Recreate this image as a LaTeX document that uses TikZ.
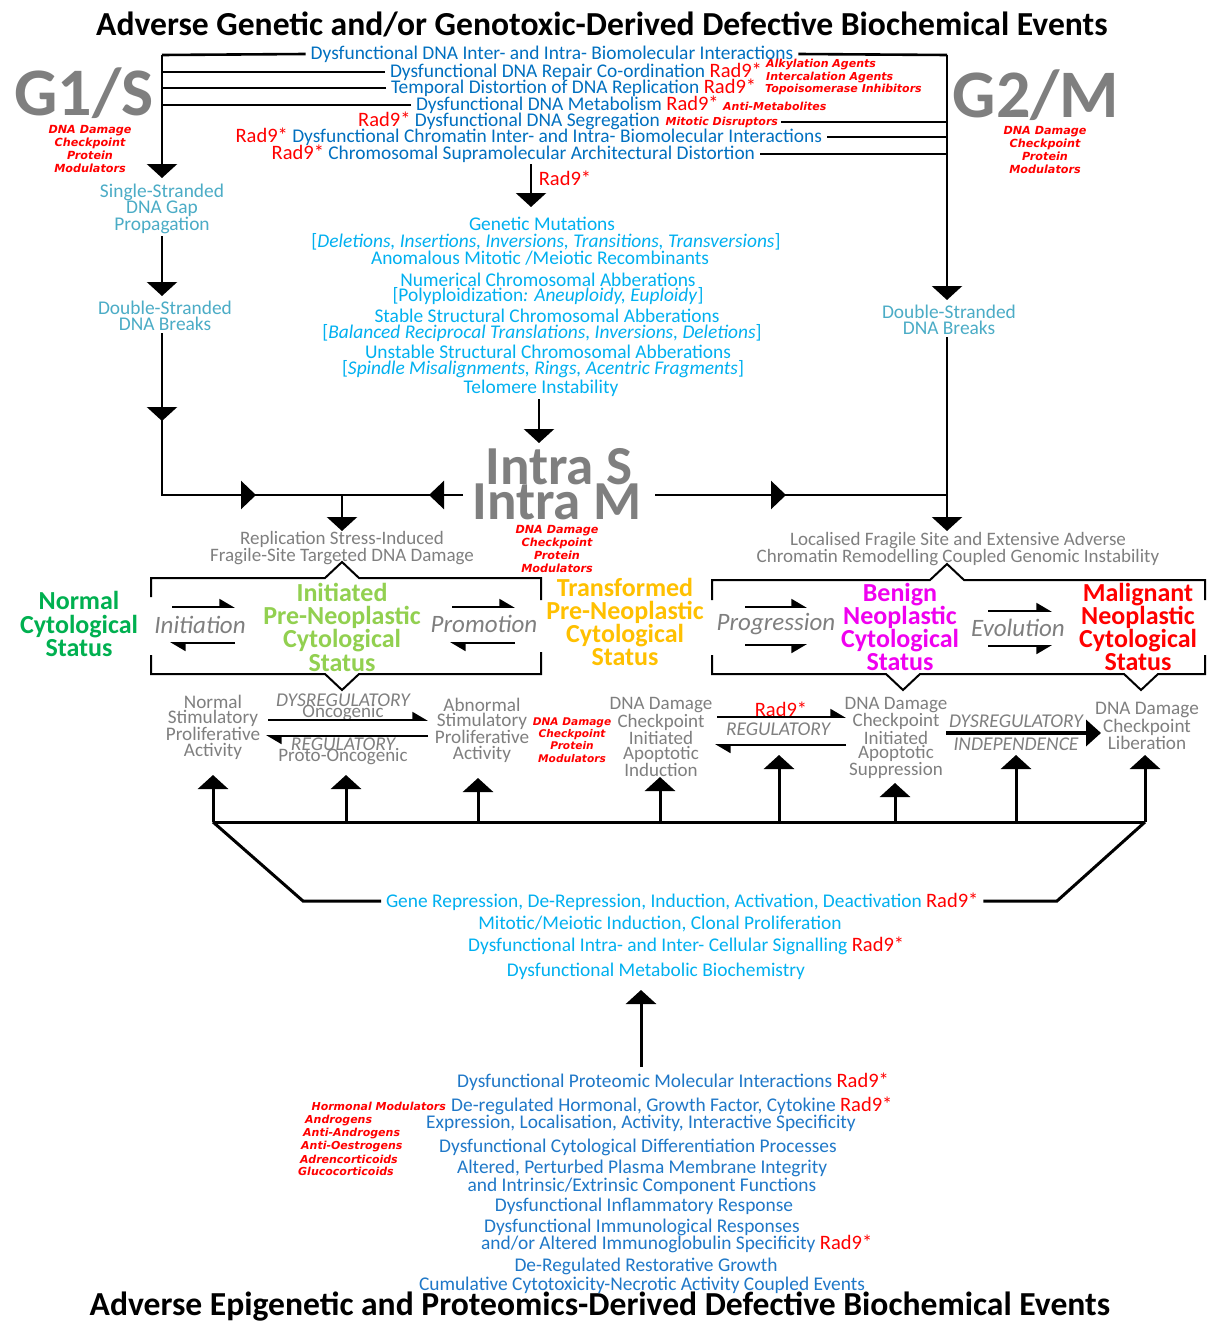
\documentclass[tikz,border=0pt]{standalone}
\usepackage{fontspec}
\setmainfont{Carlito}
\newfontfamily\notefont{DejaVu Sans}
\usetikzlibrary{arrows.meta}

\definecolor{dnablue}{HTML}{0070C0}
\definecolor{mutblue}{HTML}{00B0F0}
\definecolor{gapteal}{HTML}{4BACC6}
\definecolor{labgray}{HTML}{7F7F7F}
\definecolor{hotred}{HTML}{FF0000}
\definecolor{normgreen}{HTML}{00B050}
\definecolor{initgreen}{HTML}{92D050}
\definecolor{transamber}{HTML}{FFC000}
\definecolor{benignpink}{HTML}{F000F0}
\definecolor{protblue}{HTML}{1F78C8}

\newcommand\radnine{{\color{hotred}\fontsize{20.5}{16}\selectfont Rad9*}}

\begin{document}
\begin{tikzpicture}[x=1pt,y=-1pt,
  heading/.style={inner sep=0pt, font=\fontsize{33.6}{34}\selectfont\bfseries},
  phase/.style={inner sep=0pt, anchor=base, text depth=0pt, text=labgray, font=\fontsize{68}{60}\selectfont\bfseries},
  intra/.style={inner sep=0pt, anchor=base, text height=0.66em, text depth=0pt, text=labgray, font=\fontsize{55}{50}\selectfont\bfseries},
  txt/.style={inner sep=0pt, align=center, font=\fontsize{19.4}{16}\selectfont},
  linetxt/.style={txt, outer sep=5pt},
  graytxt/.style={inner sep=0pt, align=center, text=labgray, font=\fontsize{19.2}{15.3}\selectfont},
  grayit/.style={inner sep=0pt, text=labgray, font=\fontsize{19.5}{15}\selectfont\itshape},
  note/.style={inner sep=0pt, align=center, text=hotred, font=\notefont\fontsize{11}{13}\selectfont\bfseries\itshape},
  notel/.style={note, align=left},
  cpnote/.style={note, font=\notefont\fontsize{11.2}{13.1}\selectfont\bfseries\itshape},
  status/.style={inner sep=0pt, align=center, font=\fontsize{26}{23.3}\selectfont\bfseries},
  stage/.style={inner sep=0pt, text=labgray, font=\fontsize{25}{25}\selectfont\itshape},
  wire/.style={line width=2.6pt, line join=miter},
  bus/.style={line width=3pt, line join=miter},
  bigtip/.style={-{Triangle[length=14pt,width=30pt]}},
  sidetip/.style={-{Triangle[length=15pt,width=28pt]}},
  frame/.style={line width=2pt, line join=miter},
  harpup/.style={line width=1.8pt, -{Triangle[length=14pt,width=16pt,left]}},
  harpdn/.style={line width=1.8pt, -{Triangle[length=14pt,width=16pt,right]}},
]
\fill[white] (0,0) rectangle (1211,1322);
\useasboundingbox (0,0) rectangle (1211,1322);

% ---------- headings ----------
\node[heading] (tophead) at (602,24) {Adverse Genetic and/or Genotoxic-Derived Defective Biochemical Events};
\node[heading] (bothead) at (600,1307) {Adverse Epigenetic and Proteomics-Derived Defective Biochemical Events};

% ---------- cell-cycle checkpoints ----------
\node[phase] (g1s) at (84,115) {G1/S};
\node[cpnote] (g1note) at (90,149) {DNA Damage\\Checkpoint\\Protein\\Modulators};
\node[phase] (g2m) at (1036,117) {G2/M};
\node[cpnote] (g2note) at (1045,150) {DNA Damage\\Checkpoint\\Protein\\Modulators};

% ---------- genotoxic events ----------
\node[linetxt, text=dnablue] (d1) at (552,54) {Dysfunctional DNA Inter- and Intra- Biomolecular Interactions};
\node[linetxt, text=dnablue, anchor=west] (d2) at (385,72) {Dysfunctional DNA Repair Co-ordination \radnine};
\node[notel, anchor=west] (n2) at (766,71) {Alkylation Agents\\Intercalation Agents};
\node[linetxt, text=dnablue, anchor=west] (d3) at (386,88) {Temporal Distortion of DNA Replication \radnine};
\node[note, anchor=west] (n3) at (765,89) {Topoisomerase Inhibitors};
\node[linetxt, text=dnablue, anchor=west] (d4) at (411,105) {Dysfunctional DNA Metabolism \radnine};
\node[note, anchor=west] (n4) at (723,106) {Anti-Metabolites};
\node[txt, text=dnablue, anchor=east] (d5) at (660,121) {\radnine\ Dysfunctional DNA Segregation};
\node[note, anchor=east, outer sep=3pt] (n5) at (781,122) {Mitotic Disruptors};
\node[linetxt, text=dnablue, anchor=east] (d6) at (827,137) {\radnine\ Dysfunctional Chromatin Inter- and Intra- Biomolecular Interactions};
\node[linetxt, text=dnablue, anchor=east] (d7) at (760,154) {\radnine\ Chromosomal Supramolecular Architectural Distortion};

% ---------- DNA strand damage ----------
\node[txt, text=gapteal] (ss) at (162,209) {Single-Stranded\\DNA Gap\\Propagation};
\node[txt, text=gapteal] (dsl) at (165,316) {Double-Stranded\\DNA Breaks};
\node[txt, text=gapteal] (dsr) at (949,320) {Double-Stranded\\DNA Breaks};

% ---------- genetic mutations ----------
\begin{scope}[every node/.style={txt, text=mutblue}]
\node (gm1) at (542,224) {Genetic Mutations};
\node (gm2) at (546,242) {[\textit{Deletions, Insertions, Inversions, Transitions, Transversions}]};
\node (gm3) at (540,258) {Anomalous Mitotic /Meiotic Recombinants};
\node (gm4) at (548,280) {Numerical Chromosomal Abberations};
\node (gm5) at (548,296) {[Polyploidization\textit{: Aneuploidy, Euploidy}]};
\node (gm6) at (547,316) {Stable Structural Chromosomal Abberations};
\node (gm7) at (542,333) {[\textit{Balanced Reciprocal Translations, Inversions, Deletions}]};
\node (gm8) at (548,352) {Unstable Structural Chromosomal Abberations};
\node (gm9) at (543,369) {[\textit{Spindle Misalignments, Rings, Acentric Fragments}]};
\node (gm10) at (541,388) {Telomere Instability};
\end{scope}
\node[txt] (radmid) at (565,178) {\radnine};

% ---------- intra S / intra M ----------
\node[intra] (intras) at (559,484) {Intra S};
\node[intra] (intram) at (557,519) {Intra M};
\node[cpnote] (intranote) at (557,549) {DNA Damage\\Checkpoint\\Protein\\Modulators};

\node[graytxt, font=\fontsize{19}{15}\selectfont] (rs) at (342,548) {Replication Stress-Induced\\Fragile-Site Targeted DNA Damage};
\node[graytxt, font=\fontsize{19}{15}\selectfont] (lf) at (958,549) {Localised Fragile Site and Extensive Adverse\\Chromatin Remodelling Coupled Genomic Instability};

% ---------- top connectors ----------
\coordinate (lbus) at (162,55);
\coordinate (rbus) at (947,55);
\draw[wire] (d1.west) -- (lbus);
\draw[wire, bigtip] (lbus) -- (162,178);
\draw[wire] (d2.west) -- (d2.west -| lbus);
\draw[wire] (d3.west) -- (d3.west -| lbus);
\draw[wire] (d4.west) -- (d4.west -| lbus);
\draw[wire] (d1.east) -- (rbus);
\draw[wire, bigtip] (rbus) -- (947,300);
\draw[wire] (n5.east) -- (n5.east -| rbus);
\draw[wire] (d6.east) -- (d6.east -| rbus);
\draw[wire] (d7.east) -- (d7.east -| rbus);

\coordinate (m1) at (531,164);
\coordinate (m2) at (531,207);
\draw[wire, bigtip] (m1) -- (m2);

% left chain
\coordinate (l1) at (162,236);
\coordinate (l2) at (162,296);
\coordinate (l3) at (162,333);
\coordinate (l4) at (162,421);
\coordinate (l5) at (162,495);
\coordinate (l6) at (256,495);
\coordinate (j1) at (342,495);
\coordinate (j2) at (342,531);
\coordinate (il) at (463,495);
\coordinate (il2) at (429,495);
\draw[wire, bigtip] (l1) -- (l2);
\draw[wire, bigtip] (l3) -- (l4);
\draw[wire] (l3) -- (l5) -- (il);
\draw[wire, sidetip] (l5) -- (l6);
\draw[wire, sidetip] (il) -- (il2);
\draw[wire, bigtip] (j1) -- (j2);

% telomere to intra
\coordinate (t1) at (539,399);
\coordinate (t2) at (539,443);
\draw[wire, bigtip] (t1) -- (t2);

% right chain
\coordinate (ir) at (655,495);
\coordinate (ir2) at (786,495);
\coordinate (r1) at (947,337);
\coordinate (rj) at (947,495);
\coordinate (r2) at (947,531);
\draw[wire] (ir) -- (rj);
\draw[wire, sidetip] (ir) -- (ir2);
\draw[wire, bigtip] (r1) -- (r2);

% ---------- cytological status ----------
\draw[frame] (151,597) -- (151,578) -- (325,578) -- (342,562) -- (359,578) -- (541,578) -- (541,600);
\draw[frame] (151,655) -- (151,674) -- (325,674) -- (342,690) -- (359,674) -- (541,674) -- (541,652);
\draw[frame] (712,600) -- (712,580) -- (930,580) -- (947,564) -- (964,580) -- (1205,580) -- (1205,600);
\draw[frame] (712,655) -- (712,674) -- (886,674) -- (903,690) -- (920,674) -- (1124,674) -- (1141,690) -- (1158,674) -- (1205,674) -- (1205,655);

\node[status, text=normgreen] (normal) at (79,624) {Normal\\Cytological\\Status};
\node[status, text=initgreen] (initiated) at (342,627) {Initiated\\Pre-Neoplastic\\Cytological\\Status};
\node[status, text=transamber] (transformed) at (625,622) {Transformed\\Pre-Neoplastic\\Cytological\\Status};
\node[status, text=benignpink] (benign) at (900,627) {Benign\\Neoplastic\\Cytological\\Status};
\node[status, text=hotred] (malignant) at (1138,627) {Malignant\\Neoplastic\\Cytological\\Status};

\node[stage] (initiation) at (200,625) {Initiation};
\node[stage] (promotion) at (484,624) {Promotion};
\node[stage] (progression) at (776,624) {Progression};
\node[stage] (evolution) at (1018,628) {Evolution};

\coordinate (ia1) at (172,607); \coordinate (ia2) at (235,607);
\coordinate (ib1) at (235,643); \coordinate (ib2) at (170,643);
\draw[harpup] (ia1) -- (ia2);
\draw[harpup] (ib1) -- (ib2);
\coordinate (pa1) at (452,607); \coordinate (pa2) at (515,607);
\coordinate (pb1) at (515,643); \coordinate (pb2) at (450,643);
\draw[harpup] (pa1) -- (pa2);
\draw[harpup] (pb1) -- (pb2);
\coordinate (ga1) at (745,607); \coordinate (ga2) at (807,607);
\coordinate (gb1) at (745,645); \coordinate (gb2) at (807,645);
\draw[harpup] (ga1) -- (ga2);
\draw[harpdn] (gb1) -- (gb2);
\coordinate (ea1) at (988,611); \coordinate (ea2) at (1052,611);
\coordinate (eb1) at (988,646); \coordinate (eb2) at (1052,646);
\draw[harpup] (ea1) -- (ea2);
\draw[harpdn] (eb1) -- (eb2);

% ---------- proliferative / apoptotic activity ----------
\node[graytxt] (nsp) at (213,727) {Normal\\Stimulatory\\Proliferative\\Activity};
\node[graytxt] (asp) at (482,730) {Abnormal\\Stimulatory\\Proliferative\\Activity};
\node[note, font=\notefont\fontsize{10.6}{12.4}\selectfont\bfseries\itshape] (lownote) at (572,740) {DNA Damage\\Checkpoint\\Protein\\Modulators};
\node[graytxt, font=\fontsize{19}{14.7}\selectfont] (induct) at (661,737) {DNA Damage\\Checkpoint\\Initiated\\Apoptotic\\Induction};
\node[graytxt, font=\fontsize{19}{14.3}\selectfont] (suppr) at (896,738) {DNA Damage\\Checkpoint\\Initiated\\Apoptotic\\Suppression};
\node[graytxt] (liber) at (1147,726) {DNA Damage\\Checkpoint\\Liberation};

\node[grayit] (dys1) at (343,700) {DYSREGULATORY};
\node[graytxt, font=\fontsize{19}{15}\selectfont] (onc) at (343,713) {Oncogenic};
\node[grayit] (reg1) at (343,744) {REGULATORY};
\node[graytxt, font=\fontsize{19}{15}\selectfont] (proto) at (343,757) {Proto-Oncogenic};
\coordinate (oa1) at (268,720); \coordinate (oa2) at (428,720);
\coordinate (ob1) at (428,736); \coordinate (ob2) at (266,736);
\draw[harpup] (oa1) -- (oa2);
\draw[harpup] (ob1) -- (ob2);

\node[txt] (radreg) at (781,709) {\radnine};
\node[grayit] (reg2) at (778,729) {REGULATORY};
\coordinate (ra1) at (717,717); \coordinate (ra2) at (846,717);
\coordinate (rb1) at (846,745); \coordinate (rb2) at (715,745);
\draw[harpup] (ra1) -- (ra2);
\draw[harpup] (rb1) -- (rb2);

\node[grayit] (dys2) at (1016,721) {DYSREGULATORY};
\node[grayit] (indep) at (1016,744) {INDEPENDENCE};
\coordinate (ta1) at (946,733); \coordinate (ta2) at (1101,733);
\draw[line width=4.5pt, -{Triangle[length=15pt,width=26pt]}] (ta1) -- (ta2);

% ---------- regulatory bus ----------
\coordinate (b1) at (213,822); \coordinate (b2) at (346,822);
\coordinate (b3) at (478,822); \coordinate (b4) at (660,822);
\coordinate (b5) at (779,822); \coordinate (b6) at (895,822);
\coordinate (b7) at (1016,822); \coordinate (b8) at (1145,822);
\draw[bus] (b1) -- (b8);
\draw[bus, bigtip] (b1) -- (213,775);
\draw[bus, bigtip] (b2) -- (346,775);
\draw[bus, bigtip] (b3) -- (478,778);
\draw[bus, bigtip] (b4) -- (660,777);
\draw[bus, bigtip] (b5) -- (779,755);
\draw[bus, bigtip] (b6) -- (895,783);
\draw[bus, bigtip] (b7) -- (1016,755);
\draw[bus, bigtip] (b8) -- (1145,755);

% ---------- epigenetic events ----------
\node[linetxt, text=mutblue, anchor=west] (gr) at (381,902) {Gene Repression, De-Repression, Induction, Activation, Deactivation \radnine};
\node[txt, text=mutblue] (mi) at (660,924) {Mitotic/Meiotic Induction, Clonal Proliferation};
\node[txt, text=mutblue, anchor=west] (sig) at (468,946) {Dysfunctional Intra- and Inter- Cellular Signalling \radnine};
\node[txt, text=mutblue] (metab) at (656,971) {Dysfunctional Metabolic Biochemistry};
\coordinate (dl) at (303,901); \coordinate (dr) at (1057,901);
\draw[bus] (b1) -- (dl) -- (gr.west |- dl);
\draw[bus] (b8) -- (dr) -- (gr.east |- dr);

\coordinate (u1) at (641,1067); \coordinate (u2) at (641,990);
\draw[bus, bigtip] (u1) -- (u2);

% ---------- proteomic events ----------
\begin{scope}[every node/.style={txt, text=protblue}]
\node[anchor=west] (p1) at (457,1082) {Dysfunctional Proteomic Molecular Interactions \radnine};
\node[anchor=west] (p2) at (451,1106) {De-regulated Hormonal, Growth Factor, Cytokine \radnine};
\node (p3) at (641,1123) {Expression, Localisation, Activity, Interactive Specificity};
\node (p4) at (638,1147) {Dysfunctional Cytological Differentiation Processes};
\node (p5) at (642,1168) {Altered, Perturbed Plasma Membrane Integrity};
\node (p6) at (642,1186) {and Intrinsic/Extrinsic Component Functions};
\node (p7) at (644,1206) {Dysfunctional Inflammatory Response};
\node (p8) at (642,1227) {Dysfunctional Immunological Responses};
\node[anchor=west] (p9) at (481,1244) {and/or Altered Immunoglobulin Specificity \radnine};
\node (p10) at (646,1266) {De-Regulated Restorative Growth};
\node (p11) at (642,1285) {Cumulative Cytotoxicity-Necrotic Activity Coupled Events};
\end{scope}
\node[note, anchor=east] (hm) at (446,1106) {Hormonal Modulators};
\node[note, anchor=west] (h1) at (305,1120) {Androgens};
\node[note, anchor=west] (h2) at (303,1133) {Anti-Androgens};
\node[note, anchor=west] (h3) at (301,1146) {Anti-Oestrogens};
\node[note, anchor=west] (h4) at (300,1159) {Adrencorticoids};
\node[note, anchor=west] (h5) at (298,1171) {Glucocorticoids};
\end{tikzpicture}
\end{document}
